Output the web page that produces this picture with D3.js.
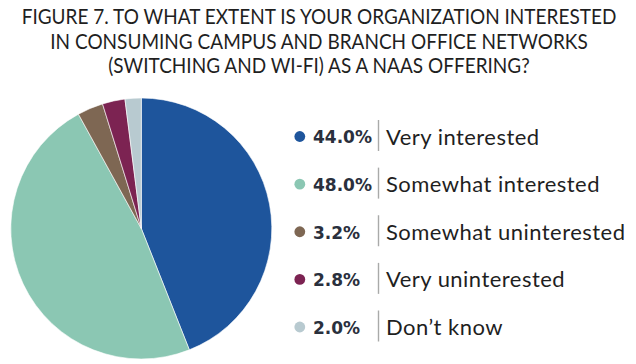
<!DOCTYPE html>
<html><head><meta charset="utf-8">
<script src="https://cdn.jsdelivr.net/npm/d3@7"></script>
<style>body{margin:0;background:#fff}svg{display:block}</style>
</head><body>
<svg id="c" width="636" height="364"></svg>
<script>
const titleLines = ["FIGURE 7. TO WHAT EXTENT IS YOUR ORGANIZATION INTERESTED",
  "IN CONSUMING CAMPUS AND BRANCH OFFICE NETWORKS",
  "(SWITCHING AND WI-FI) AS A NAAS OFFERING?"];
const categories = ["Very interested","Somewhat interested","Somewhat uninterested","Very uninterested","Don\u2019t know"];
const values = [44.0, 48.0, 3.2, 2.8, 2.0];
const colors = ["#1e559c","#8bc7b3","#7e6753","#7c2352","#b8cad0"];

const svg = d3.select("#c");
svg.append("g").selectAll("text").data(titleLines).join("text")
  .attr("transform", (d,i)=>`translate(319,${24+i*24.6}) scale(1,1.1)`)
  .attr("text-anchor","middle")
  .attr("font-family","Lato, sans-serif").attr("font-size",19)
  .attr("fill","#1f1f1f").text(d=>d);

const cx = 141.3, cy = 228.5, r = 130.5;
const pie = d3.pie().sort(null).value(d=>d);
const arc = d3.arc().innerRadius(0).outerRadius(r);
svg.append("g").attr("transform",`translate(${cx},${cy})`)
  .selectAll("path").data(pie(values)).join("path")
  .attr("d",arc).attr("fill",(d,i)=>colors[i])
  .attr("stroke","#fff").attr("stroke-width",0.6);

const y = d3.scalePoint().domain(categories).range([136.5, 327]);
const lg = svg.append("g").selectAll("g").data(categories).join("g")
  .attr("transform",d=>`translate(0,${y(d)})`);
lg.append("circle").attr("cx",299.8).attr("cy",0).attr("r",5.4).attr("fill",(d,i)=>colors[i]);
lg.append("text").attr("x",313).attr("y",6.8)
  .attr("font-family","'DejaVu Sans', sans-serif").attr("font-weight","bold").attr("font-size",17)
  .attr("fill","#2a303d").text((d,i)=>d3.format(".1f")(values[i])+"%");
lg.append("line").attr("x1",378.5).attr("x2",378.5).attr("y1",-16.5).attr("y2",14.5)
  .attr("stroke","#a9aaa9").attr("stroke-width",1.4);
const lab = lg.append("text").attr("x",386).attr("y",8)
  .attr("font-family","Lato, sans-serif").attr("font-size",22)
  .attr("fill","#1f1f1f").text(d=>d);
const refNode = lab.nodes()[2];
const ls = (239 - refNode.getComputedTextLength()) / (categories[2].length - 1);
lab.attr("letter-spacing", ls);
</script>
</body></html>
